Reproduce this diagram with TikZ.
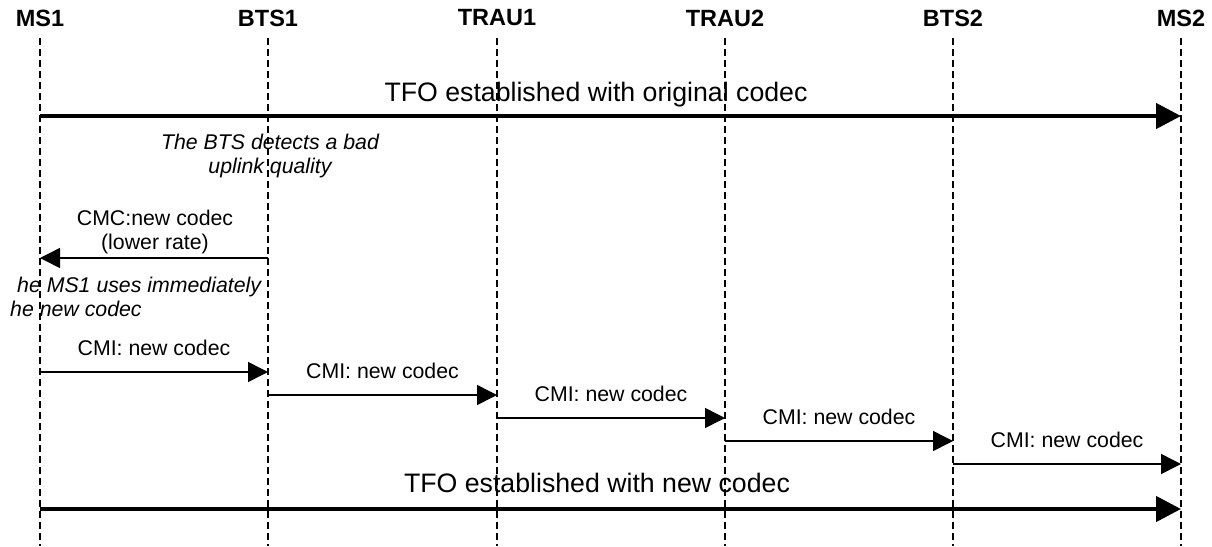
\documentclass[tikz,border=0pt]{standalone}
\usepackage{fontspec}
\setmainfont{Liberation Sans}
\usetikzlibrary{arrows.meta}

\begin{document}
\begin{tikzpicture}
        [
           x=1pt, y=-1pt,
           every node/.style={inner sep=0pt,font=\fontsize{21.3}{24}\selectfont}
        ]
        \tikzstyle{head}=[font=\bfseries\fontsize{23.5}{26}\selectfont]
        \tikzstyle{lifeline}=[dash pattern=on 7pt off 4pt,line width=1.2pt]
        \tikzstyle{tfo}=[line width=4.5pt,-{Triangle[length=25pt,width=25pt]}]
        \tikzstyle{msg}=[line width=1.5pt,-{Triangle[length=20pt,width=20pt]}]
        \tikzstyle{note}=[font=\itshape\fontsize{21.3}{24}\selectfont]
        \tikzstyle{big}=[font=\fontsize{26.7}{30}\selectfont]
        \useasboundingbox (0,0) rectangle (1212,546);
        % entities
        \node[head] (ms1) at (40,18) {MS1};
        \node[head] (bts1) at (268,18) {BTS1};
        \node[head] (trau1) at (497,18) {TRAU1};
        \node[head] (trau2) at (725,18) {TRAU2};
        \node[head] (bts2) at (953,18) {BTS2};
        \node[head] (ms2) at (1181,18) {MS2};
        \foreach \n in {ms1,bts1,trau1,trau2,bts2,ms2}
            \draw[lifeline] (\n |- 0,38) -- (\n |- 0,546);
        % TFO with the old codec
        \node[big,anchor=base] (tfoold) at (596,101.5) {TFO established with original codec};
        \draw[tfo] (ms1 |- 0,116) -- (ms2 |- 0,116);
        \node[note,anchor=base] (bad1) at (270,149.5) {The BTS detects a bad};
        \node[note,anchor=base] (bad2) at (270,173.5) {uplink quality};
        % codec change
        \node[anchor=base] (cmc1) at (155,225.5) {CMC:new codec};
        \node[anchor=base] (cmc2) at (155,249.5) {(lower rate)};
        \draw[msg] (bts1 |- 0,258) -- (ms1 |- 0,258);
        \node[note,anchor=base west] (uses1) at (17,292.5) {he MS1 uses immediately};
        \node[note,anchor=base west] (uses2) at (10,316.5) {he new codec};
        % CMI along the path
        \node[anchor=base] (cmi1) at (154,355) {CMI: new codec};
        \draw[msg] (ms1 |- 0,372) -- (bts1 |- 0,372);
        \node[anchor=base] (cmi2) at (382.5,378) {CMI: new codec};
        \draw[msg] (bts1 |- 0,395) -- (trau1 |- 0,395);
        \node[anchor=base] (cmi3) at (611,401) {CMI: new codec};
        \draw[msg] (trau1 |- 0,418) -- (trau2 |- 0,418);
        \node[anchor=base] (cmi4) at (839,424) {CMI: new codec};
        \draw[msg] (trau2 |- 0,441) -- (bts2 |- 0,441);
        \node[anchor=base] (cmi5) at (1067,447) {CMI: new codec};
        \draw[msg] (bts2 |- 0,464) -- (ms2 |- 0,464);
        % TFO with the new codec
        \node[big,anchor=base] (tfonew) at (597,492.5) {TFO established with new codec};
        \draw[tfo] (ms1 |- 0,509) -- (ms2 |- 0,509);
    \end{tikzpicture}
\end{document}
